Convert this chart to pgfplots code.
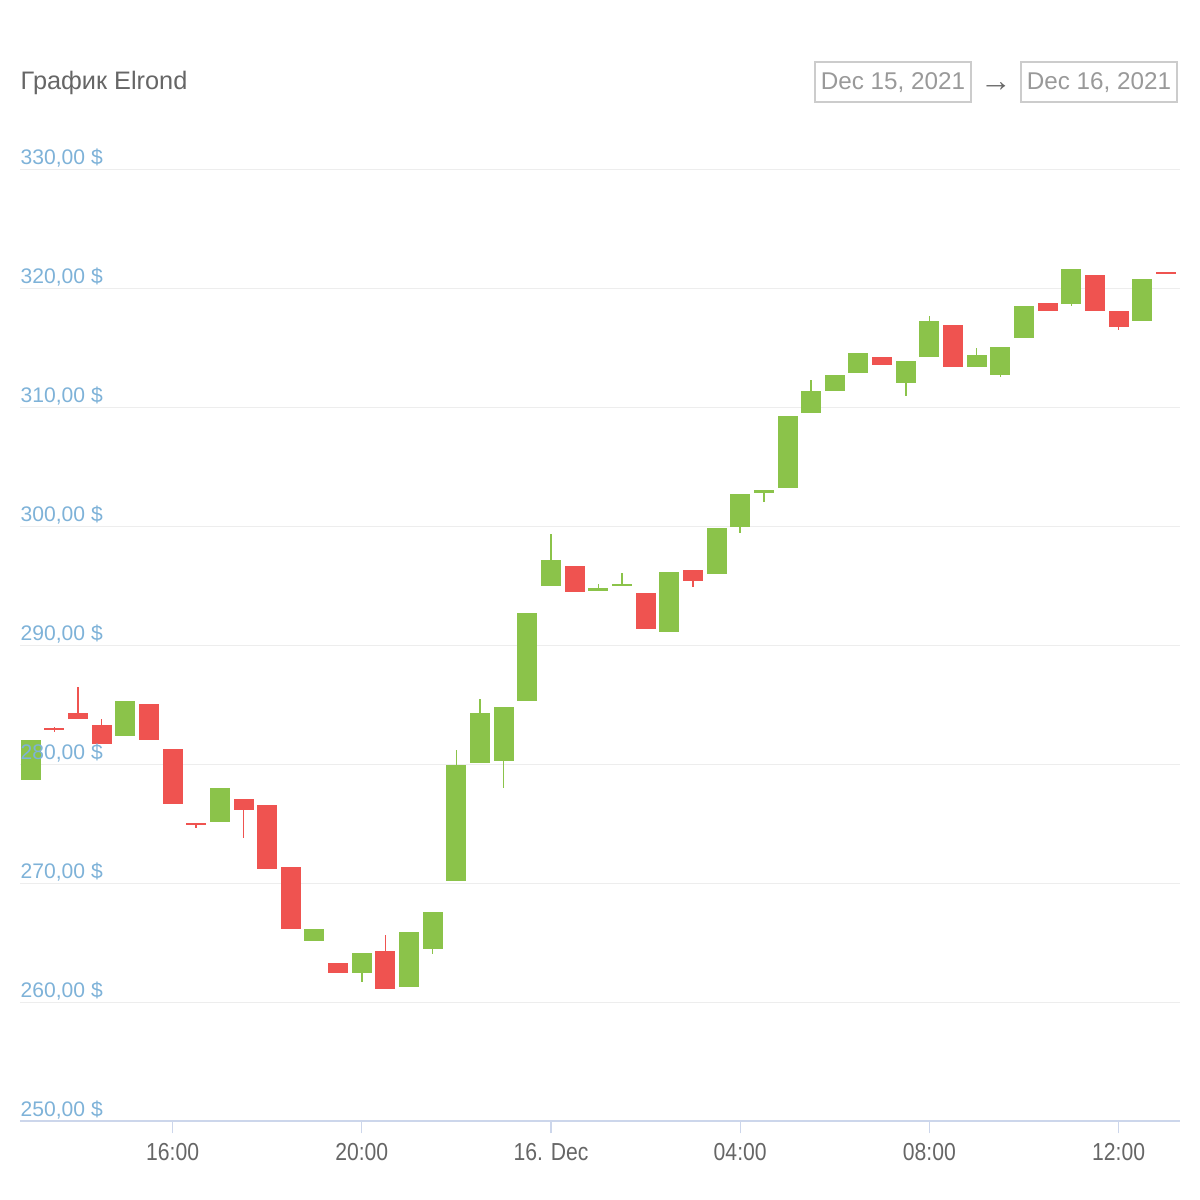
\documentclass[border=0pt]{standalone}
\usepackage{fontspec}
\setmainfont{Liberation Sans}
\newfontfamily\xfont{Liberation Sans}[FakeStretch=0.86]
\usepackage{pgfplots}
\usepackage{pgfplotstable}
\pgfplotsset{compat=1.18}
\definecolor{cgreen}{HTML}{8BC34A}
\definecolor{cred}{HTML}{EF5350}
\definecolor{ylab}{HTML}{7EB2D8}
\definecolor{gridc}{HTML}{EDEDED}
\definecolor{axisc}{HTML}{CCD6EB}
\definecolor{txt}{HTML}{666666}
\definecolor{datec}{HTML}{999999}
\definecolor{boxc}{HTML}{CCCCCC}

\pgfplotstableread{
x o h l c
-11 278.7 282.1 278.7 282.1
-9 282.4 285.3 282.4 285.3
-7 275.2 278.0 275.2 278.0
-5 265.2 266.2 265.2 266.2
-4 262.5 264.2 261.75 264.2
-3 261.3 265.9 261.3 265.9
-2.5 264.5 267.6 264.1 267.6
-2 270.2 281.2 270.2 280.0
-1.5 280.1 285.5 280.1 284.3
-1 280.3 284.8 278.0 284.8
-0.5 285.3 292.7 285.3 292.7
0 295.0 299.4 295.0 297.2
1 294.6 295.2 294.6 294.8
1.5 295.0 296.1 295.0 295.2
2.5 291.1 296.2 291.1 296.2
3.5 296.0 299.9 296.0 299.9
4 300.0 302.7 299.45 302.7
4.5 302.85 303.05 302.1 303.05
5 303.2 309.25 303.2 309.25
5.5 309.55 312.3 309.55 311.4
6 311.4 312.75 311.4 312.75
6.5 312.9 314.6 312.9 314.6
7.5 312.1 313.9 311.0 313.9
8 314.27 317.7 314.27 317.3
9 313.4 315.0 313.4 314.45
9.5 312.7 315.1 312.55 315.1
10 315.8 318.5 315.8 318.5
11 318.7 321.6 318.55 321.6
12.5 317.25 320.8 317.25 320.8
}\greentab

\pgfplotstableread{
x o h l c
-10.5 283.05 283.15 282.75 282.9
-10 284.3 286.5 283.8 283.8
-9.5 283.3 283.8 281.7 281.7
-8.5 285.1 285.1 282.1 282.1
-8 281.3 281.3 276.7 276.7
-7.5 275.1 275.1 274.7 274.9
-6.5 277.1 277.1 273.8 276.2
-6 276.6 276.6 271.2 271.2
-5.5 271.4 271.4 266.2 266.2
-4.5 263.35 263.35 262.5 262.5
-3.5 264.35 265.7 261.1 261.1
0.5 296.7 296.7 294.5 294.5
2 294.4 294.4 291.4 291.4
3 296.35 296.35 294.9 295.45
7 314.27 314.27 313.6 313.6
8.5 316.95 316.95 313.4 313.4
10.5 318.75 318.75 318.1 318.1
11.5 321.1 321.1 318.1 318.1
12 318.1 318.1 316.55 316.75
13 321.35 321.35 321.2 321.2
}\redtab

\begin{document}
\begin{tikzpicture}
\path (0,0) rectangle (12cm,12cm);
\begin{axis}[
  set layers,
  at={(0.2cm,0.785cm)}, anchor=south west,
  scale only axis, width=11.6cm, height=9.52cm,
  xmin=-11.226, xmax=13.298, ymin=250, ymax=330,
  axis x line*=bottom, axis y line*=left,
  x axis line style={draw=axisc, line width=0.02cm},
  y axis line style={draw=none},
  ytick={250,260,...,330},
  yticklabels={{250,00 \$},{260,00 \$},{270,00 \$},{280,00 \$},{290,00 \$},{300,00 \$},{310,00 \$},{320,00 \$},{330,00 \$}},
  ytick style={draw=none},
  yticklabel style={anchor=base west, inner sep=0pt, xshift=0.12cm, yshift=0.055cm, text=ylab, font=\fontsize{6}{7}\selectfont},
  ymajorgrids, grid style={draw=gridc, line width=0.012cm},
  xtick={-8,-4,0,4,8,12},
  xticklabels={16:00,20:00,16. Dec,04:00,08:00,12:00},
  tick align=outside, major tick length=0.12cm,
  xtick style={draw=axisc, line width=0.012cm},
  xticklabel style={text=txt, font=\xfont\fontsize{7}{8}\selectfont, inner sep=0pt, yshift=-0.09cm},
  clip=true,
  every axis plot/.append style={on layer=axis lines},
]
% wicks
\addplot[draw=none, no markers, forget plot, error bars/.cd, y dir=both, y explicit, error mark=none,
  error bar style={draw=cgreen, line width=0.015cm}]
  table[x=x, y expr={(\thisrow{h}+\thisrow{l})/2}, y error expr={(\thisrow{h}-\thisrow{l})/2}] {\greentab};
\addplot[draw=none, no markers, forget plot, error bars/.cd, y dir=both, y explicit, error mark=none,
  error bar style={draw=cred, line width=0.015cm}]
  table[x=x, y expr={(\thisrow{h}+\thisrow{l})/2}, y error expr={(\thisrow{h}-\thisrow{l})/2}] {\redtab};
% bodies
\addplot[draw=none, no markers, forget plot, error bars/.cd, y dir=both, y explicit, error mark=none,
  error bar style={draw=cgreen, line width=0.2cm}]
  table[x=x, y expr={(\thisrow{o}+\thisrow{c})/2}, y error expr={abs(\thisrow{c}-\thisrow{o})/2}] {\greentab};
\addplot[draw=none, no markers, forget plot, error bars/.cd, y dir=both, y explicit, error mark=none,
  error bar style={draw=cred, line width=0.2cm}]
  table[x=x, y expr={(\thisrow{o}+\thisrow{c})/2}, y error expr={abs(\thisrow{c}-\thisrow{o})/2}] {\redtab};
\end{axis}
\node[anchor=base west, inner sep=0pt, text=txt, font=\fontsize{7.2}{9}\selectfont] at (0.2cm,11.10cm) {График Elrond};
\draw[boxc, line width=0.02cm] (8.15cm,10.98cm) rectangle (9.71cm,11.38cm);
\draw[boxc, line width=0.02cm] (10.21cm,10.98cm) rectangle (11.77cm,11.38cm);
\node[anchor=base, inner sep=0pt, text=datec, font=\fontsize{6.9}{8}\selectfont] at (8.93cm,11.10cm) {Dec 15, 2021};
\node[anchor=base, inner sep=0pt, text=datec, font=\fontsize{6.9}{8}\selectfont] at (10.99cm,11.10cm) {Dec 16, 2021};
\node[anchor=base, inner sep=0pt, text=txt, font=\fontsize{9}{10}\selectfont] at (9.96cm,11.08cm) {→};
\end{tikzpicture}
\end{document}
